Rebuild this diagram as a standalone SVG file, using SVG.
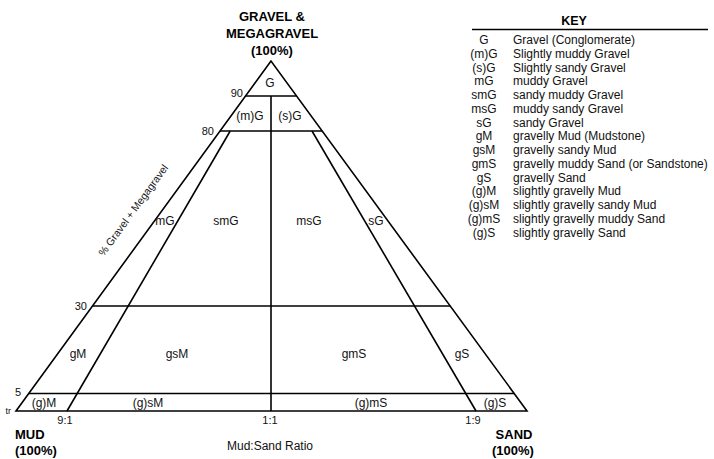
<svg xmlns="http://www.w3.org/2000/svg" width="714" height="459" viewBox="0 0 714 459">
<style>
.ln{stroke:#000;stroke-width:1.6;fill:none;stroke-linejoin:miter}
.t{font-family:"Liberation Sans",Arial,sans-serif;font-size:12px;fill:#111}
.c{text-anchor:middle}
.e{text-anchor:end}
.s{font-size:11px}
.b{font-family:"Liberation Sans",Arial,sans-serif;font-weight:bold;font-size:13px;fill:#000}
</style>
<rect width="714" height="459" fill="#fff"/>
<g id="connectors">
<polygon class="ln" points="271,61 16,411 527,411"/>
<line class="ln" x1="245.5" y1="96" x2="296.6" y2="96"/>
<line class="ln" x1="220" y1="131" x2="322.2" y2="131"/>
<line class="ln" x1="92.5" y1="306" x2="450.2" y2="306"/>
<line class="ln" x1="28.8" y1="393.5" x2="514.2" y2="393.5"/>
<line class="ln" x1="271" y1="96" x2="271" y2="411"/>
<line class="ln" x1="230.2" y1="131" x2="67" y2="411"/>
<line class="ln" x1="312" y1="131" x2="476" y2="411"/>
</g>
<g id="vertex-gravel">
<text class="b c" x="272" y="21">GRAVEL &amp;</text>
<text class="b c" x="272" y="38">MEGAGRAVEL</text>
<text class="b c" x="272" y="55">(100%)</text>
</g>
<g id="vertex-mud">
<text class="b" x="15" y="439">MUD</text>
<text class="b" x="15" y="455">(100%)</text>
</g>
<g id="vertex-sand">
<text class="b c" x="514" y="439">SAND</text>
<text class="b c" x="513" y="455">(100%)</text>
</g>
<g id="axis-labels">
<text class="t s e" x="243" y="97">90</text>
<text class="t s e" x="214" y="135">80</text>
<text class="t s e" x="87" y="310">30</text>
<text class="t s e" x="21" y="396">5</text>
<text class="t e" x="11" y="414" style="font-size:9px">tr</text>
<text class="t s c" x="65" y="424">9:1</text>
<text class="t s c" x="270" y="424">1:1</text>
<text class="t s c" x="473" y="424">1:9</text>
<text class="t c" x="270" y="450">Mud:Sand Ratio</text>
<text class="t c" x="133" y="214" transform="rotate(-53.9 133 210)" style="font-size:10.5px">% Gravel + Megagravel</text>
</g>
<g id="field-G"><text class="t c" x="270" y="87">G</text></g>
<g id="field-mG1"><text class="t c" x="250" y="120">(m)G</text></g>
<g id="field-sG1"><text class="t c" x="290" y="120">(s)G</text></g>
<g id="field-mG"><text class="t c" x="165" y="225">mG</text></g>
<g id="field-smG"><text class="t c" x="226" y="225">smG</text></g>
<g id="field-msG"><text class="t c" x="309" y="225">msG</text></g>
<g id="field-sG"><text class="t c" x="376" y="225">sG</text></g>
<g id="field-gM"><text class="t c" x="78" y="358">gM</text></g>
<g id="field-gsM"><text class="t c" x="177" y="358">gsM</text></g>
<g id="field-gmS"><text class="t c" x="354" y="358">gmS</text></g>
<g id="field-gS"><text class="t c" x="462" y="358">gS</text></g>
<g id="field-g-M"><text class="t c" x="44" y="407">(g)M</text></g>
<g id="field-g-sM"><text class="t c" x="148" y="407">(g)sM</text></g>
<g id="field-g-mS"><text class="t c" x="371" y="407">(g)mS</text></g>
<g id="field-g-S"><text class="t c" x="495" y="407">(g)S</text></g>
<g id="key">
<text class="b c" x="574" y="25" style="font-size:12.5px">KEY</text>
<line x1="472" y1="29.5" x2="708" y2="29.5" stroke="#000" stroke-width="1.3"/>
<g class="t">
<text class="c" x="484" y="44">G</text><text x="513" y="44">Gravel (Conglomerate)</text>
<text class="c" x="484" y="57.75">(m)G</text><text x="513" y="57.75">Slightly muddy Gravel</text>
<text class="c" x="484" y="71.5">(s)G</text><text x="513" y="71.5">Slightly sandy Gravel</text>
<text class="c" x="484" y="85.25">mG</text><text x="513" y="85.25">muddy Gravel</text>
<text class="c" x="484" y="99">smG</text><text x="513" y="99">sandy muddy Gravel</text>
<text class="c" x="484" y="112.75">msG</text><text x="513" y="112.75">muddy sandy Gravel</text>
<text class="c" x="484" y="126.5">sG</text><text x="513" y="126.5">sandy Gravel</text>
<text class="c" x="484" y="140.25">gM</text><text x="513" y="140.25">gravelly Mud (Mudstone)</text>
<text class="c" x="484" y="154">gsM</text><text x="513" y="154">gravelly sandy Mud</text>
<text class="c" x="484" y="167.75">gmS</text><text x="513" y="167.75">gravelly muddy Sand (or Sandstone)</text>
<text class="c" x="484" y="181.5">gS</text><text x="513" y="181.5">gravelly Sand</text>
<text class="c" x="484" y="195.25">(g)M</text><text x="513" y="195.25">slightly gravelly Mud</text>
<text class="c" x="484" y="209">(g)sM</text><text x="513" y="209">slightly gravelly sandy Mud</text>
<text class="c" x="484" y="222.75">(g)mS</text><text x="513" y="222.75">slightly gravelly muddy Sand</text>
<text class="c" x="484" y="236.5">(g)S</text><text x="513" y="236.5">slightly gravelly Sand</text>
</g>
</g>
</svg>
